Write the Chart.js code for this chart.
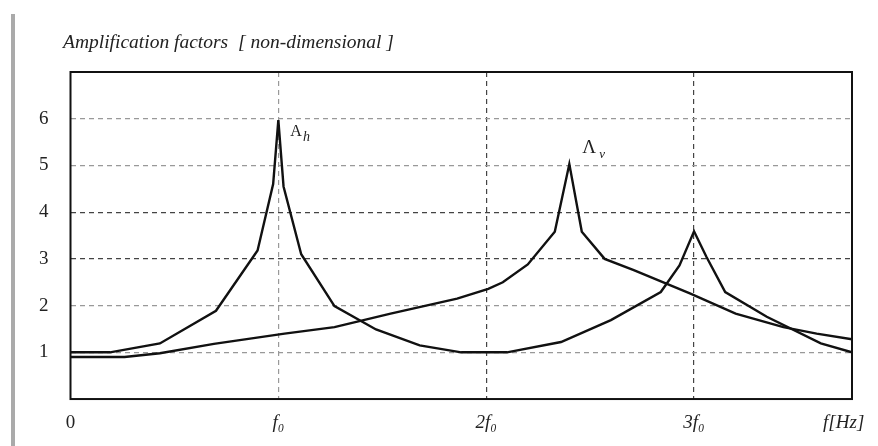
<!DOCTYPE html>
<html>
<head>
<meta charset="utf-8">
<script src="https://cdn.jsdelivr.net/npm/chart.js@4"></script>
<style>
  html, body { margin: 0; padding: 0; background: #fff; }
  #wrap { width: 878px; height: 446px; position: relative; }
</style>
</head>
<body>
<div id="wrap"><canvas id="myChart"></canvas></div>
<script>
// frequencies are in units of f0
const ahFreq = [0, 0.19, 0.43, 0.70, 0.90, 0.975, 1.0, 1.025, 1.11, 1.27, 1.47, 1.68, 1.88, 2.10, 2.36, 2.60, 2.84, 2.93, 3.0, 3.06, 3.15, 3.35, 3.61, 3.76];
const ahValues = [1.0, 1.0, 1.19, 1.89, 3.18, 4.6, 5.97, 4.55, 3.1, 1.99, 1.49, 1.15, 1.0, 1.0, 1.22, 1.69, 2.29, 2.86, 3.59, 3.04, 2.29, 1.76, 1.19, 1.0];

const avFreq = [0, 0.26, 0.43, 0.69, 1.03, 1.27, 1.54, 1.86, 2.01, 2.08, 2.20, 2.33, 2.40, 2.46, 2.57, 2.71, 2.98, 3.20, 3.43, 3.59, 3.76];
const avValues = [0.9, 0.9, 0.98, 1.18, 1.4, 1.54, 1.83, 2.15, 2.36, 2.5, 2.88, 3.58, 5.03, 3.58, 3.0, 2.76, 2.26, 1.83, 1.54, 1.4, 1.28];

const xMax = 3.76;
const xTickValues = [0, 1, 2, 3, 3.72];
const xTickLabels = ['0', 'f\u2080', '2f\u2080', '3f\u2080', 'f[Hz]'];
const yTickValues = [0, 1, 2, 3, 4, 5, 6, 7];
const yTickLabels = ['', '1', '2', '3', '4', '5', '6', ''];

const serif = "'Liberation Serif', 'DejaVu Serif', serif";

const toPoints = (xs, ys) => xs.map((x, i) => ({x: x, y: ys[i]}));

// frame, side bar, title and curve labels
const decorations = {
    id: 'decorations',
    afterDraw(chart) {
        const ctx = chart.ctx;
        const a = chart.chartArea;
        const xs = chart.scales.x;
        const ys = chart.scales.y;
        ctx.save();
        ctx.strokeStyle = '#111';
        ctx.lineWidth = 2;
        ctx.strokeRect(a.left, a.top, a.right - a.left, a.bottom - a.top);

        ctx.fillStyle = '#aaa';
        ctx.fillRect(11, 14, 4, 432);

        ctx.fillStyle = '#222';
        ctx.font = 'italic 19.5px ' + serif;
        ctx.textBaseline = 'middle';
        ctx.fillText('Amplification factors  [ non-dimensional ]', 63, 43);

        // A_h next to its peak
        let px = xs.getPixelForValue(1) + 12;
        let py = ys.getPixelForValue(6) + 13;
        ctx.font = '16px ' + serif;
        ctx.fillText('A', px, py);
        ctx.font = 'italic 14px ' + serif;
        ctx.fillText('h', px + ctx.measureText('A').width + 4, py + 6);

        // Λ_v next to the second peak
        px = xs.getPixelForValue(2.4) + 13;
        py = ys.getPixelForValue(5) - 17;
        ctx.font = '19px ' + serif;
        ctx.fillText('\u039B', px, py);
        ctx.font = 'italic 13px ' + serif;
        ctx.fillText('v', px + 17, py + 6);
        ctx.restore();
    }
};

const data = {
    datasets: [{
        label: 'Ah',
        data: toPoints(ahFreq, ahValues),
        borderColor: '#111',
        borderWidth: 2.4,
        pointRadius: 0,
        tension: 0
    }, {
        label: 'Av',
        data: toPoints(avFreq, avValues),
        borderColor: '#111',
        borderWidth: 2.4,
        pointRadius: 0,
        tension: 0
    }]
};

const config = {
    type: 'line',
    data: data,
    options: {
        responsive: true,
        maintainAspectRatio: false,
        animation: false,
        layout: { padding: { top: 72, right: 26, bottom: 0, left: 17 } },
        plugins: {
            legend: { display: false },
            tooltip: { enabled: false }
        },
        scales: {
            x: {
                type: 'linear',
                min: 0,
                max: xMax,
                afterBuildTicks: scale => {
                    scale.ticks = xTickValues.map(v => ({value: v}));
                },
                ticks: {
                    autoSkip: false,
                    maxRotation: 0,
                    padding: 6,
                    color: '#222',
                    font: ctx => ({
                        family: serif,
                        size: 19,
                        lineHeight: 1.84,
                        style: ctx.index === 0 ? 'normal' : 'italic'
                    }),
                    callback: (v, i) => xTickLabels[i]
                },
                grid: {
                    drawTicks: false,
                    lineWidth: 1.2,
                    color: ctx => {
                        const v = ctx.tick ? ctx.tick.value : 0;
                        if (v === 0 || v > 3.5) return 'rgba(0,0,0,0)';
                        return v === 1 ? '#999' : '#444';
                    }
                },
                border: { display: false, dash: [5, 4] }
            },
            y: {
                min: 0,
                max: 7,
                afterBuildTicks: scale => {
                    scale.ticks = yTickValues.map(v => ({value: v}));
                },
                ticks: {
                    padding: 22,
                    color: '#222',
                    font: { family: serif, size: 19 },
                    callback: (v, i) => yTickLabels[i]
                },
                grid: {
                    drawTicks: false,
                    lineWidth: 1.2,
                    color: ctx => {
                        const v = ctx.tick ? ctx.tick.value : 0;
                        if (v === 0 || v === 7) return 'rgba(0,0,0,0)';
                        if (v === 3 || v === 4) return '#444';
                        return '#999';
                    }
                },
                border: { display: false, dash: [5, 4] }
            }
        }
    },
    plugins: [decorations]
};

const myChart = new Chart(document.getElementById('myChart'), config);
</script>
</body>
</html>
